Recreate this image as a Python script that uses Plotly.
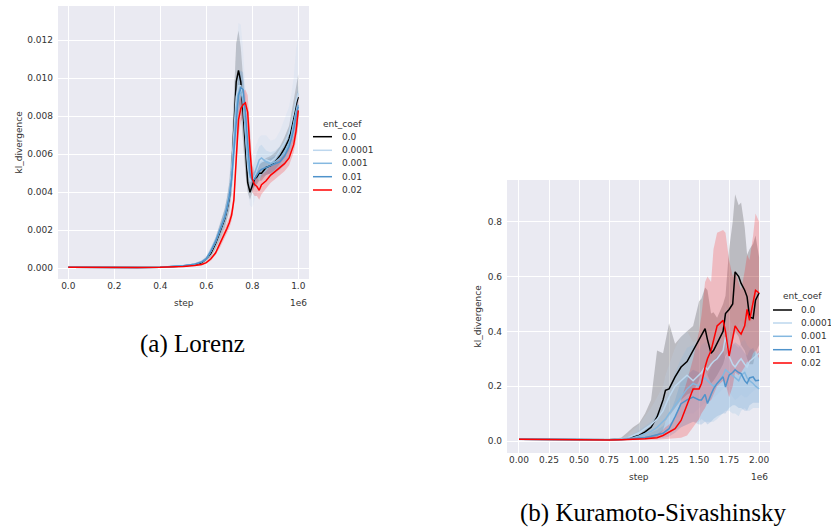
import plotly.graph_objects as go

# ---------------- data ----------------
ENT_COEF = ["0.0", "0.0001", "0.001", "0.01", "0.02"]
COLORS = ["#000000", "#bdd7ee", "#84b8e0", "#4f93cb", "#ff0000"]

# Lorenz (step in units of 1e6)
LOR_STEP = [0.0, 0.1, 0.2, 0.3, 0.4, 0.45, 0.5, 0.55, 0.58, 0.6, 0.62, 0.64, 0.66, 0.68, 0.69,
            0.70, 0.71, 0.72, 0.73, 0.74, 0.75, 0.76, 0.77, 0.78, 0.79, 0.80, 0.81, 0.82, 0.83,
            0.84, 0.86, 0.88, 0.90, 0.92, 0.94, 0.96, 0.97, 0.98, 0.99, 1.0]

LOR_E0_MEAN = [0.00005, 0.00004, 0.00004, 0.00004, 0.00006, 0.00008, 0.00012, 0.0002, 0.0003, 0.0005, 0.0008, 0.0013, 0.0019, 0.0026, 0.0031, 0.0037, 0.0050, 0.0075, 0.0098, 0.0104, 0.0098, 0.0082, 0.0064, 0.0045, 0.0040, 0.0044, 0.0047, 0.0048, 0.0050, 0.0050, 0.0053, 0.0054, 0.0056, 0.0059, 0.0063, 0.0068, 0.0074, 0.0079, 0.0086, 0.0090]
LOR_E0_LO = [0.00004, 0.00003, 0.00003, 0.00003, 0.00005, 0.00006, 0.00009, 0.00015, 0.00022, 0.0004, 0.0006, 0.0010, 0.0015, 0.0021, 0.0025, 0.0030, 0.0040, 0.0058, 0.0078, 0.0088, 0.0082, 0.0066, 0.0050, 0.0040, 0.0036, 0.0040, 0.0043, 0.0044, 0.0046, 0.0046, 0.0049, 0.0050, 0.0052, 0.0055, 0.0058, 0.0062, 0.0067, 0.0071, 0.0077, 0.0080]
LOR_E0_HI = [0.00006, 0.00005, 0.00005, 0.00005, 0.00007, 0.0001, 0.00015, 0.00026, 0.0004, 0.0006, 0.0010, 0.0016, 0.0023, 0.0031, 0.0037, 0.0045, 0.0062, 0.0093, 0.0118, 0.0125, 0.0116, 0.0100, 0.0080, 0.0052, 0.0045, 0.0048, 0.0051, 0.0053, 0.0055, 0.0056, 0.0058, 0.0059, 0.0061, 0.0064, 0.0069, 0.0075, 0.0082, 0.0088, 0.0096, 0.0102]

LOR_E1_MEAN = [0.00005, 0.00004, 0.00004, 0.00004, 0.00006, 0.00008, 0.00013, 0.00022, 0.00035, 0.0005, 0.0009, 0.0014, 0.0020, 0.0027, 0.0032, 0.0039, 0.0052, 0.0072, 0.0090, 0.0096, 0.0096, 0.0089, 0.0072, 0.0054, 0.0046, 0.0046, 0.0049, 0.0052, 0.0055, 0.0056, 0.0057, 0.0056, 0.0058, 0.0062, 0.0066, 0.0071, 0.0076, 0.0082, 0.0088, 0.0092]
LOR_E1_LO = [0.00004, 0.00003, 0.00003, 0.00003, 0.00005, 0.00006, 0.0001, 0.00016, 0.00026, 0.0004, 0.0007, 0.0011, 0.0016, 0.0022, 0.0026, 0.0031, 0.0040, 0.0055, 0.0068, 0.0074, 0.0076, 0.0070, 0.0056, 0.0040, 0.0033, 0.0032, 0.0036, 0.0040, 0.0043, 0.0045, 0.0046, 0.0047, 0.0049, 0.0052, 0.0055, 0.0059, 0.0063, 0.0067, 0.0070, 0.0072]
LOR_E1_HI = [0.00006, 0.00005, 0.00005, 0.00005, 0.00007, 0.0001, 0.00016, 0.00028, 0.00045, 0.0007, 0.0011, 0.0017, 0.0024, 0.0032, 0.0039, 0.0048, 0.0066, 0.0092, 0.0115, 0.0129, 0.0128, 0.0115, 0.0095, 0.0072, 0.0062, 0.0060, 0.0063, 0.0066, 0.0069, 0.0070, 0.0070, 0.0067, 0.0068, 0.0072, 0.0078, 0.0085, 0.0092, 0.0100, 0.0115, 0.0122]

LOR_E2_MEAN = [0.00005, 0.00004, 0.00004, 0.00004, 0.00006, 0.00008, 0.00013, 0.00022, 0.00034, 0.0005, 0.0009, 0.0014, 0.0020, 0.0027, 0.0032, 0.0038, 0.0048, 0.0066, 0.0084, 0.0092, 0.0093, 0.0088, 0.0072, 0.0056, 0.0048, 0.0047, 0.0050, 0.0054, 0.0057, 0.0058, 0.0056, 0.0055, 0.0056, 0.0058, 0.0061, 0.0066, 0.0070, 0.0076, 0.0082, 0.0086]
LOR_E2_LO = [0.00004, 0.00003, 0.00003, 0.00003, 0.00005, 0.00006, 0.0001, 0.00017, 0.00027, 0.0004, 0.0007, 0.0012, 0.0017, 0.0023, 0.0027, 0.0032, 0.0040, 0.0055, 0.0072, 0.0080, 0.0082, 0.0076, 0.0061, 0.0047, 0.0041, 0.0041, 0.0044, 0.0047, 0.0050, 0.0051, 0.0050, 0.0049, 0.0050, 0.0052, 0.0055, 0.0059, 0.0063, 0.0068, 0.0073, 0.0076]
LOR_E2_HI = [0.00006, 0.00005, 0.00005, 0.00005, 0.00007, 0.0001, 0.00016, 0.00027, 0.00041, 0.0006, 0.0011, 0.0016, 0.0023, 0.0031, 0.0037, 0.0044, 0.0056, 0.0077, 0.0096, 0.0104, 0.0104, 0.0100, 0.0083, 0.0065, 0.0055, 0.0053, 0.0056, 0.0061, 0.0064, 0.0065, 0.0062, 0.0061, 0.0062, 0.0064, 0.0067, 0.0073, 0.0077, 0.0084, 0.0091, 0.0096]

LOR_E3_MEAN = [0.00005, 0.00004, 0.00004, 0.00004, 0.00006, 0.00008, 0.00013, 0.00022, 0.00034, 0.0005, 0.0009, 0.0014, 0.0020, 0.0027, 0.0032, 0.0038, 0.0047, 0.0062, 0.0080, 0.0091, 0.0095, 0.0094, 0.0082, 0.0063, 0.0050, 0.0046, 0.0047, 0.0049, 0.0051, 0.0052, 0.0053, 0.0054, 0.0055, 0.0056, 0.0059, 0.0064, 0.0068, 0.0073, 0.0080, 0.0085]
LOR_E3_LO = [0.00004, 0.00003, 0.00003, 0.00003, 0.00005, 0.00006, 0.0001, 0.00017, 0.00027, 0.0004, 0.0007, 0.0012, 0.0017, 0.0023, 0.0027, 0.0032, 0.0040, 0.0053, 0.0070, 0.0081, 0.0086, 0.0085, 0.0073, 0.0056, 0.0045, 0.0042, 0.0043, 0.0045, 0.0047, 0.0048, 0.0049, 0.0050, 0.0051, 0.0052, 0.0054, 0.0058, 0.0062, 0.0066, 0.0072, 0.0076]
LOR_E3_HI = [0.00006, 0.00005, 0.00005, 0.00005, 0.00007, 0.0001, 0.00016, 0.00027, 0.00041, 0.0006, 0.0011, 0.0016, 0.0023, 0.0031, 0.0037, 0.0044, 0.0054, 0.0071, 0.0090, 0.0101, 0.0104, 0.0103, 0.0091, 0.0070, 0.0055, 0.0050, 0.0051, 0.0053, 0.0055, 0.0056, 0.0057, 0.0058, 0.0059, 0.0060, 0.0064, 0.0070, 0.0074, 0.0080, 0.0088, 0.0094]

LOR_E4_MEAN = [0.00005, 0.00004, 0.00004, 0.00004, 0.00005, 0.00007, 0.0001, 0.00015, 0.0002, 0.0003, 0.0005, 0.0008, 0.0013, 0.0018, 0.0021, 0.0024, 0.0028, 0.0036, 0.0060, 0.0078, 0.0084, 0.0086, 0.0087, 0.0082, 0.0062, 0.0047, 0.0044, 0.0043, 0.0041, 0.0044, 0.0046, 0.0049, 0.0051, 0.0053, 0.0055, 0.0058, 0.0061, 0.0065, 0.0072, 0.0083]
LOR_E4_LO = [0.00004, 0.00003, 0.00003, 0.00003, 0.00004, 0.00006, 0.00008, 0.00012, 0.00016, 0.00025, 0.0004, 0.0007, 0.0011, 0.0016, 0.0018, 0.0021, 0.0025, 0.0032, 0.0053, 0.0070, 0.0077, 0.0079, 0.0080, 0.0072, 0.0053, 0.0040, 0.0038, 0.0038, 0.0036, 0.0039, 0.0042, 0.0045, 0.0047, 0.0049, 0.0051, 0.0054, 0.0057, 0.0061, 0.0067, 0.0075]
LOR_E4_HI = [0.00006, 0.00005, 0.00005, 0.00005, 0.00006, 0.00008, 0.00012, 0.00018, 0.00025, 0.00036, 0.0006, 0.0009, 0.0015, 0.0020, 0.0024, 0.0027, 0.0031, 0.0040, 0.0067, 0.0086, 0.0091, 0.0093, 0.0094, 0.0091, 0.0073, 0.0055, 0.0050, 0.0048, 0.0046, 0.0049, 0.0051, 0.0054, 0.0056, 0.0058, 0.0060, 0.0063, 0.0066, 0.0070, 0.0078, 0.0092]

# Kuramoto-Sivashinsky (step in units of 1e6)
KS_STEP = [0.0, 0.25, 0.5, 0.75, 0.85, 0.9, 0.95, 1.0, 1.05, 1.1, 1.15, 1.2, 1.22, 1.25, 1.3, 1.35, 1.4,
           1.45, 1.5, 1.52, 1.55, 1.57, 1.6, 1.62, 1.65, 1.7, 1.72, 1.75, 1.78, 1.8, 1.83, 1.85, 1.88,
           1.9, 1.92, 1.95, 1.97, 2.0]

KS_E0_MEAN = [0.006, 0.005, 0.004, 0.005, 0.006, 0.008, 0.015, 0.02, 0.033, 0.05, 0.088, 0.15, 0.185, 0.19, 0.234, 0.27, 0.29, 0.33, 0.37, 0.39, 0.41, 0.37, 0.32, 0.33, 0.355, 0.40, 0.465, 0.48, 0.50, 0.617, 0.60, 0.575, 0.55, 0.526, 0.453, 0.447, 0.514, 0.54]
KS_E0_LO = [0.004, 0.003, 0.002, 0.003, 0.004, 0.004, 0.004, 0.005, 0.006, 0.008, 0.015, 0.04, 0.07, 0.09, 0.12, 0.15, 0.17, 0.18, 0.22, 0.25, 0.26, 0.24, 0.21, 0.22, 0.24, 0.28, 0.31, 0.33, 0.36, 0.40, 0.38, 0.35, 0.33, 0.30, 0.28, 0.28, 0.32, 0.35]
KS_E0_HI = [0.008, 0.007, 0.006, 0.008, 0.012, 0.03, 0.05, 0.065, 0.10, 0.15, 0.33, 0.32, 0.36, 0.43, 0.355, 0.38, 0.40, 0.42, 0.51, 0.52, 0.56, 0.55, 0.465, 0.47, 0.45, 0.50, 0.53, 0.70, 0.80, 0.90, 0.86, 0.87, 0.78, 0.68, 0.70, 0.72, 0.75, 0.67]

KS_E1_MEAN = [0.006, 0.005, 0.004, 0.005, 0.007, 0.01, 0.02, 0.03, 0.045, 0.06, 0.08, 0.11, 0.13, 0.16, 0.20, 0.22, 0.24, 0.22, 0.24, 0.25, 0.27, 0.26, 0.28, 0.29, 0.30, 0.33, 0.38, 0.31, 0.28, 0.27, 0.29, 0.30, 0.28, 0.27, 0.29, 0.30, 0.31, 0.32]
KS_E1_LO = [0.004, 0.003, 0.002, 0.003, 0.004, 0.005, 0.006, 0.008, 0.012, 0.018, 0.025, 0.035, 0.045, 0.06, 0.08, 0.09, 0.10, 0.10, 0.12, 0.13, 0.14, 0.14, 0.15, 0.16, 0.17, 0.19, 0.21, 0.18, 0.16, 0.15, 0.16, 0.17, 0.16, 0.16, 0.17, 0.18, 0.19, 0.19]
KS_E1_HI = [0.008, 0.007, 0.006, 0.007, 0.01, 0.02, 0.04, 0.06, 0.09, 0.12, 0.16, 0.20, 0.24, 0.28, 0.34, 0.38, 0.40, 0.36, 0.37, 0.38, 0.40, 0.38, 0.40, 0.41, 0.42, 0.46, 0.50, 0.45, 0.42, 0.40, 0.43, 0.44, 0.42, 0.41, 0.43, 0.44, 0.45, 0.46]

KS_E2_MEAN = [0.006, 0.005, 0.004, 0.005, 0.006, 0.008, 0.012, 0.018, 0.026, 0.035, 0.05, 0.07, 0.08, 0.10, 0.13, 0.16, 0.19, 0.21, 0.20, 0.22, 0.23, 0.22, 0.21, 0.20, 0.21, 0.24, 0.26, 0.25, 0.24, 0.23, 0.22, 0.24, 0.25, 0.23, 0.22, 0.21, 0.20, 0.19]
KS_E2_LO = [0.004, 0.003, 0.002, 0.003, 0.004, 0.004, 0.005, 0.006, 0.008, 0.01, 0.015, 0.02, 0.025, 0.03, 0.04, 0.05, 0.06, 0.07, 0.07, 0.08, 0.07, 0.07, 0.07, 0.07, 0.08, 0.10, 0.11, 0.11, 0.10, 0.10, 0.09, 0.11, 0.12, 0.11, 0.11, 0.12, 0.12, 0.12]
KS_E2_HI = [0.008, 0.007, 0.006, 0.007, 0.009, 0.014, 0.025, 0.04, 0.055, 0.07, 0.10, 0.14, 0.16, 0.19, 0.25, 0.30, 0.34, 0.35, 0.33, 0.35, 0.36, 0.35, 0.33, 0.32, 0.33, 0.36, 0.38, 0.37, 0.36, 0.35, 0.34, 0.36, 0.37, 0.35, 0.34, 0.33, 0.32, 0.31]

KS_E3_MEAN = [0.006, 0.005, 0.004, 0.005, 0.005, 0.006, 0.008, 0.010, 0.013, 0.017, 0.022, 0.028, 0.035, 0.045, 0.088, 0.136, 0.15, 0.16, 0.15, 0.15, 0.17, 0.137, 0.17, 0.19, 0.21, 0.234, 0.197, 0.24, 0.25, 0.26, 0.25, 0.246, 0.22, 0.21, 0.23, 0.234, 0.22, 0.222]
KS_E3_LO = [0.004, 0.003, 0.002, 0.003, 0.003, 0.004, 0.005, 0.005, 0.006, 0.007, 0.009, 0.011, 0.013, 0.016, 0.03, 0.05, 0.06, 0.07, 0.06, 0.06, 0.07, 0.06, 0.07, 0.08, 0.09, 0.10, 0.10, 0.12, 0.13, 0.13, 0.12, 0.12, 0.11, 0.11, 0.13, 0.14, 0.14, 0.14]
KS_E3_HI = [0.008, 0.007, 0.006, 0.007, 0.007, 0.009, 0.012, 0.016, 0.022, 0.03, 0.04, 0.055, 0.07, 0.09, 0.15, 0.22, 0.24, 0.26, 0.25, 0.24, 0.27, 0.24, 0.27, 0.29, 0.31, 0.33, 0.30, 0.34, 0.35, 0.36, 0.35, 0.34, 0.32, 0.31, 0.33, 0.34, 0.32, 0.33]

KS_E4_MEAN = [0.006, 0.005, 0.003, 0.004, 0.005, 0.005, 0.006, 0.007, 0.008, 0.010, 0.012, 0.02, 0.025, 0.033, 0.045, 0.075, 0.13, 0.19, 0.19, 0.21, 0.27, 0.30, 0.33, 0.37, 0.42, 0.44, 0.40, 0.31, 0.38, 0.42, 0.40, 0.39, 0.42, 0.48, 0.44, 0.50, 0.55, 0.54]
KS_E4_LO = [0.004, 0.003, 0.001, 0.002, 0.003, 0.003, 0.004, 0.004, 0.004, 0.005, 0.005, 0.006, 0.007, 0.008, 0.01, 0.012, 0.02, 0.05, 0.08, 0.10, 0.12, 0.14, 0.15, 0.17, 0.20, 0.22, 0.21, 0.16, 0.20, 0.25, 0.24, 0.25, 0.27, 0.29, 0.28, 0.32, 0.33, 0.30]
KS_E4_HI = [0.008, 0.007, 0.006, 0.007, 0.008, 0.009, 0.01, 0.012, 0.015, 0.02, 0.025, 0.04, 0.05, 0.06, 0.08, 0.15, 0.22, 0.30, 0.40, 0.46, 0.58, 0.60, 0.58, 0.70, 0.76, 0.77, 0.76, 0.66, 0.60, 0.62, 0.58, 0.55, 0.62, 0.68, 0.66, 0.75, 0.83, 0.80]

LOR_XTICKS = [0.0, 0.2, 0.4, 0.6, 0.8, 1.0]
LOR_YTICKS = [0.0, 0.002, 0.004, 0.006, 0.008, 0.010, 0.012]
KS_XTICKS = [0.0, 0.25, 0.5, 0.75, 1.0, 1.25, 1.5, 1.75, 2.0]
KS_YTICKS = [0.0, 0.2, 0.4, 0.6, 0.8]

LOR_SERIES = [(LOR_E0_MEAN, LOR_E0_LO, LOR_E0_HI), (LOR_E1_MEAN, LOR_E1_LO, LOR_E1_HI),
              (LOR_E2_MEAN, LOR_E2_LO, LOR_E2_HI), (LOR_E3_MEAN, LOR_E3_LO, LOR_E3_HI),
              (LOR_E4_MEAN, LOR_E4_LO, LOR_E4_HI)]
KS_SERIES = [(KS_E0_MEAN, KS_E0_LO, KS_E0_HI), (KS_E1_MEAN, KS_E1_LO, KS_E1_HI),
             (KS_E2_MEAN, KS_E2_LO, KS_E2_HI), (KS_E3_MEAN, KS_E3_LO, KS_E3_HI),
             (KS_E4_MEAN, KS_E4_LO, KS_E4_HI)]

# ---------------- figure ----------------
W, H = 831, 529
BG = "#EAEAF2"
TXT = "#333333"
FONT = "DejaVu Sans"


def fx(p):
    return p / W


def fy(p):
    return 1 - p / H


def rgba(hexc, a):
    h = hexc.lstrip("#")
    return "rgba(%d,%d,%d,%s)" % (int(h[0:2], 16), int(h[2:4], 16), int(h[4:6], 16), a)


fig = go.Figure()

for step, series, xa, ya in [(LOR_STEP, LOR_SERIES, "x", "y"), (KS_STEP, KS_SERIES, "x2", "y2")]:
    # confidence bands first (drawn beneath all lines)
    for (mean, lo, hi), col in zip(series, COLORS):
        fig.add_trace(go.Scatter(x=step, y=lo, mode="lines", line=dict(width=0, color=col),
                                 showlegend=False, hoverinfo="skip", xaxis=xa, yaxis=ya))
        fig.add_trace(go.Scatter(x=step, y=hi, mode="lines", line=dict(width=0, color=col),
                                 fill="tonexty", fillcolor=rgba(col, 0.2),
                                 showlegend=False, hoverinfo="skip", xaxis=xa, yaxis=ya))
    for (mean, lo, hi), col, name in zip(series, COLORS, ENT_COEF):
        fig.add_trace(go.Scatter(x=step, y=mean, mode="lines", name=name,
                                 line=dict(width=1.5, color=col),
                                 showlegend=False, xaxis=xa, yaxis=ya))

axis_common = dict(showgrid=True, gridcolor="white", gridwidth=1, zeroline=False,
                   showline=False, ticks="", tickfont=dict(family=FONT, size=9, color=TXT))

fig.update_layout(
    width=W, height=H,
    margin=dict(l=0, r=0, t=0, b=0),
    paper_bgcolor="white", plot_bgcolor=BG,
    showlegend=False,
    xaxis=dict(domain=[fx(58), fx(309)], range=[-0.0448, 1.0465], anchor="y",
               tickvals=LOR_XTICKS, tickformat=".1f", **axis_common),
    yaxis=dict(domain=[fy(279), fy(6)], range=[-0.000562, 0.01379], anchor="x",
               tickvals=LOR_YTICKS, tickformat=".3f", ticklabelstandoff=4, **axis_common),
    xaxis2=dict(domain=[fx(507), fx(770)], range=[-0.0998, 2.0907], anchor="y2",
                tickvals=KS_XTICKS, tickformat=".2f", **axis_common),
    yaxis2=dict(domain=[fy(453), fy(180)], range=[-0.0438, 0.9523], anchor="x2",
                tickvals=KS_YTICKS, tickformat=".1f", ticklabelstandoff=4, **axis_common),
)

ann = []
lab = dict(family=FONT, size=9, color=TXT)
for xd, yd, in [("x domain", "y domain"), ("x2 domain", "y2 domain")]:
    ann.append(dict(text="step", xref=xd, yref=yd, x=0.5, y=0, xanchor="center", yanchor="middle",
                    yshift=-24, showarrow=False, font=lab))
    ann.append(dict(text="1e6", xref=xd, yref=yd, x=1, y=0, xanchor="right", yanchor="middle",
                    yshift=-24, showarrow=False, font=lab))
    ann.append(dict(text="kl_divergence", xref=xd, yref=yd, x=0, y=0.5, xanchor="center",
                    yanchor="middle", textangle=-90, showarrow=False, font=lab,
                    xshift=-40 if xd == "x domain" else -29))

# captions
ann.append(dict(text="(a) Lorenz", xref="paper", yref="paper", x=fx(192), y=fy(344),
                xanchor="center", yanchor="middle", showarrow=False,
                font=dict(family="Liberation Serif", size=25, color="black")))
ann.append(dict(text="(b) Kuramoto-Sivashinsky", xref="paper", yref="paper", x=fx(653), y=fy(513),
                xanchor="center", yanchor="middle", showarrow=False,
                font=dict(family="Liberation Serif", size=25, color="black")))

# legends (hue key), one per panel
shapes = []
for lx, tx, ty, ys in [(313, 340, 124, [136.7, 150.3, 163.3, 176.7, 190.0]),
                       (773, 799, 296, [310.0, 323.0, 336.3, 349.7, 363.0])]:
    ann.append(dict(text="ent_coef", xref="paper", yref="paper", x=fx(lx + 29), y=fy(ty),
                    xanchor="center", yanchor="middle", showarrow=False, font=lab))
    for name, col, yy in zip(ENT_COEF, COLORS, ys):
        shapes.append(dict(type="line", xref="paper", yref="paper", x0=fx(lx), x1=fx(lx + 19),
                           y0=fy(yy), y1=fy(yy), line=dict(color=col, width=1.5)))
        ann.append(dict(text=name, xref="paper", yref="paper", x=fx(tx), y=fy(yy),
                        xanchor="left", yanchor="middle", showarrow=False, font=lab))

fig.update_layout(annotations=ann, shapes=shapes)
# remove the default page margin so the 831x529 figure fills the window exactly
fig.write_html("out.html", config={"displayModeBar": False},
               post_script="document.body.style.margin='0';document.body.style.overflow='hidden';")
